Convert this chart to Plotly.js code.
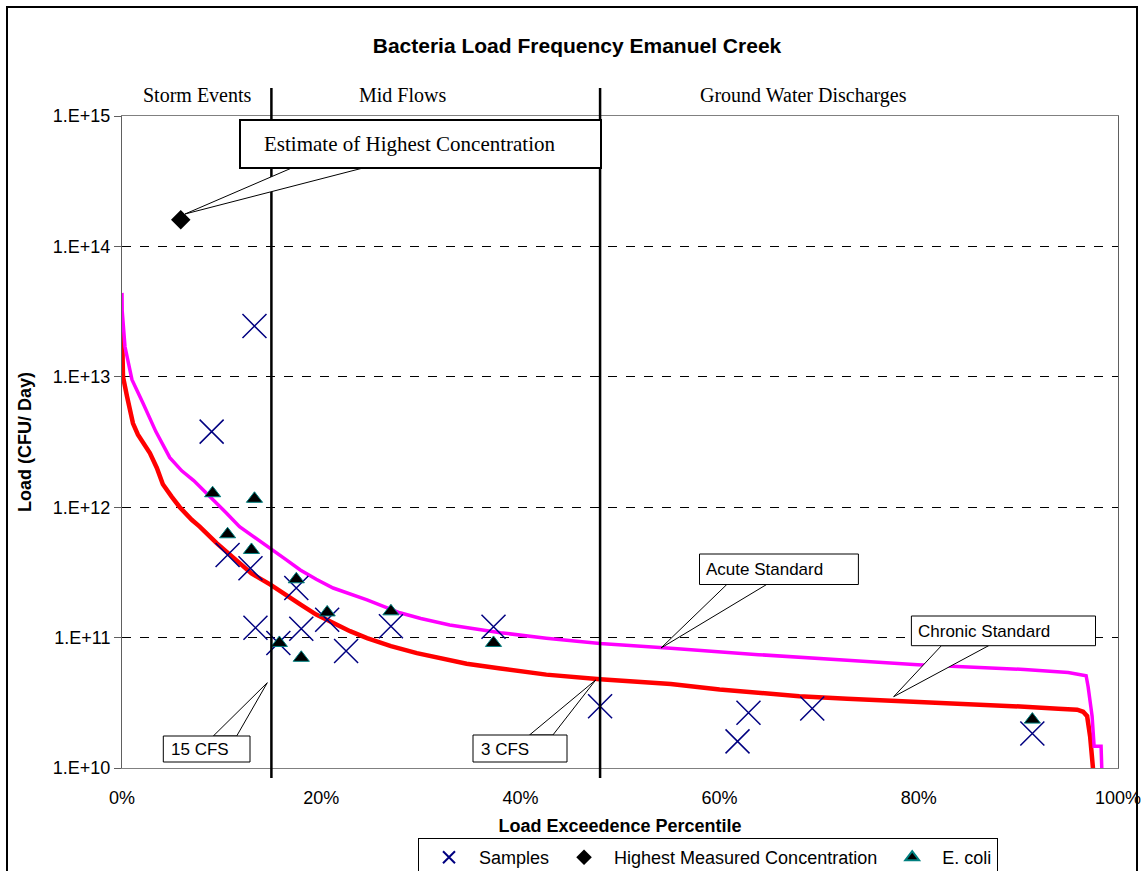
<!DOCTYPE html>
<html>
<head>
<meta charset="utf-8">
<script src="https://cdn.plot.ly/plotly-3.0.1.min.js"></script>
<style>html,body{margin:0;padding:0;background:#fff;}#chart{width:1141px;height:871px;}</style>
</head>
<body>
<div id="chart"></div>
<script>
// ---- data ----
const chronicPct = [0, 0.05, 0.1, 0.5, 1.1, 1.6, 2.8, 3.5, 4.1, 5.0, 5.8, 7.0, 7.8, 9.5, 11.8, 13.0, 14.9, 16.5, 17.9, 19.5, 21.2, 22.9, 24.6, 27.0, 29.6, 32.0, 34.6, 38.0, 42.6, 48.0, 55.1, 60.0, 63.9, 68.0, 72.8, 77.0, 81.7, 86.0, 90.6, 94.0, 95.9, 96.5, 96.9, 97.2, 97.4, 97.6];
const chronicLoad = [2.4e13, 1.7e13, 1.0e13, 7.1e12, 4.4e12, 3.6e12, 2.6e12, 2.0e12, 1.5e12, 1.2e12, 1.0e12, 8.0e11, 7.1e11, 5.3e11, 3.7e11, 3.1e11, 2.55e11, 2.1e11, 1.8e11, 1.5e11, 1.29e11, 1.12e11, 9.9e10, 8.6e10, 7.6e10, 6.9e10, 6.3e10, 5.8e10, 5.2e10, 4.8e10, 4.4e10, 4.0e10, 3.8e10, 3.55e10, 3.4e10, 3.3e10, 3.2e10, 3.1e10, 2.95e10, 2.85e10, 2.8e10, 2.7e10, 2.5e10, 1.75e10, 1.3e10, 8.0e9];

const acutePct = [0, 0.02, 0.3, 1.0, 2.1, 3.4, 4.8, 6.0, 7.2, 9.2, 10.5, 11.8, 13.3, 14.9, 16.4, 17.9, 19.5, 21.2, 24.6, 27.9, 30.0, 32.9, 38.0, 42.6, 48.0, 55.1, 63.9, 72.8, 79.9, 86.1, 90.6, 95.0, 96.8, 97.0, 97.4, 97.6, 98.3, 98.4];
const acuteLoad = [4.4e13, 3.2e13, 1.7e13, 9.5e12, 6.3e12, 3.8e12, 2.4e12, 1.9e12, 1.6e12, 1.14e12, 9.0e11, 7.1e11, 5.9e11, 4.9e11, 4.0e11, 3.3e11, 2.8e11, 2.4e11, 1.95e11, 1.55e11, 1.4e11, 1.25e11, 1.09e11, 9.9e10, 9.0e10, 8.3e10, 7.4e10, 6.7e10, 6.2e10, 5.9e10, 5.7e10, 5.4e10, 5.1e10, 4.2e10, 2.5e10, 1.47e10, 1.47e10, 8.5e9];

const samplePct = [13.3, 9.0, 10.6, 12.9, 13.4, 15.7, 17.5, 18.0, 20.6, 22.5, 27.0, 37.3, 48.0, 61.8, 62.9, 69.3, 91.4];
const sampleLoad = [2.45e13, 3.8e12, 4.3e11, 3.4e11, 1.19e11, 9.1e10, 2.4e11, 1.17e11, 1.37e11, 7.9e10, 1.22e11, 1.21e11, 2.98e10, 1.6e10, 2.65e10, 2.86e10, 1.84e10];

const highestPct = [5.9];
const highestLoad = [1.6e14];

const ecoliPct = [9.1, 13.3, 10.6, 13.0, 17.5, 15.8, 18.0, 20.6, 27.0, 37.3, 91.4];
const ecoliLoad = [1.28e12, 1.16e12, 6.2e11, 4.7e11, 2.8e11, 9.1e10, 7.0e10, 1.56e11, 1.59e11, 9.1e10, 2.35e10];

const flowBreaks = [15, 48];
const yTickVals = [1e10, 1e11, 1e12, 1e13, 1e14, 1e15];
const yTickText = ['1.E+10', '1.E+11', '1.E+12', '1.E+13', '1.E+14', '1.E+15'];
const xTickVals = [0, 20, 40, 60, 80, 100];
const xTickText = ['0%', '20%', '40%', '60%', '80%', '100%'];
const zoneLabels = ['Storm Events', 'Mid Flows', 'Ground Water Discharges'];

// ---- layout helpers (pixel -> paper) ----
const L = 122, R = 1118, T = 116, B = 768;
const px = x => (x - L) / (R - L);
const py = y => (B - y) / (B - T);
const SANS = 'Liberation Sans, Arial, sans-serif';
const SERIF = 'Liberation Serif, Times New Roman, serif';

const traces = [
  {x: chronicPct, y: chronicLoad, type: 'scatter', mode: 'lines', name: 'Chronic Standard',
   line: {color: '#ff0000', width: 4.5}, showlegend: false, hoverinfo: 'skip'},
  {x: acutePct, y: acuteLoad, type: 'scatter', mode: 'lines', name: 'Acute Standard',
   line: {color: '#ff00ff', width: 3.5}, showlegend: false, hoverinfo: 'skip'},
  {x: samplePct, y: sampleLoad, type: 'scatter', mode: 'markers', name: 'Samples',
   marker: {symbol: 'x-thin-open', size: 24, color: '#000080', line: {color: '#000080', width: 1.5}}},
  {x: highestPct, y: highestLoad, type: 'scatter', mode: 'markers', name: 'Highest Measured Concentration',
   marker: {symbol: 'diamond', size: 15, color: '#000000'}},
  {x: ecoliPct, y: ecoliLoad, type: 'scatter', mode: 'markers', name: 'E. coli',
   marker: {symbol: 'triangle-up', size: 14, color: '#000000', line: {color: '#008080', width: 1}}}
];

function rectPx(x0, y0, x1, y1, lw) {
  return {type: 'rect', xref: 'paper', yref: 'paper', x0: px(x0), x1: px(x1), y0: py(y1), y1: py(y0),
          line: {color: '#000', width: lw}, fillcolor: '#fff', layer: 'above'};
}
function wedgePx(ax, ay, bx, by, tx, ty) {
  return {type: 'path', xref: 'paper', yref: 'paper',
          path: `M${px(ax)},${py(ay)} L${px(tx)},${py(ty)} L${px(bx)},${py(by)} Z`,
          line: {color: '#000', width: 1}, fillcolor: '#fff', layer: 'above'};
}

const shapes = [
  // outer chart border
  {type: 'rect', xref: 'paper', yref: 'paper', x0: px(7), x1: px(1137), y0: py(920), y1: py(7),
   line: {color: '#000', width: 2}, fillcolor: 'rgba(0,0,0,0)', layer: 'below'},
  // flow break lines
  ...flowBreaks.map(v => ({type: 'line', xref: 'x', yref: 'paper', x0: v, x1: v, y0: py(778), y1: py(88),
    line: {color: '#000', width: 2.5}, layer: 'above'})),
  // callouts
  wedgePx(291.7, 168, 363, 168, 185, 214),
  rectPx(240, 120, 601, 168, 2),
  wedgePx(213.3, 736, 236.7, 736, 267.3, 682.7),
  rectPx(163.3, 736, 250, 762, 1),
  wedgePx(529.5, 735, 552.9, 735, 595.7, 680),
  rectPx(473, 735, 567, 762, 1),
  wedgePx(726.8, 584.5, 766.6, 584.5, 661, 648),
  rectPx(699.5, 554, 858.4, 584.5, 1),
  wedgePx(941.4, 645.7, 988.6, 645.7, 893.7, 696.7),
  rectPx(911.4, 616, 1095.5, 645.7, 1)
];

function textPx(text, x, y, font, anchor) {
  return {text: text, xref: 'paper', yref: 'paper', x: px(x), y: py(y), showarrow: false,
          xanchor: anchor || 'left', yanchor: 'middle', font: font};
}
const serif20 = {family: SERIF, size: 20, color: '#000'};
const serif21 = {family: SERIF, size: 21, color: '#000'};
const sans17 = {family: SANS, size: 17, color: '#000'};
const annotations = [
  textPx(zoneLabels[0], 197, 95, serif20, 'center'),
  textPx(zoneLabels[1], 402, 95, serif20, 'center'),
  textPx(zoneLabels[2], 803, 95, serif20, 'center'),
  textPx('Estimate of Highest Concentration', 410, 144, serif21, 'center'),
  textPx('15 CFS', 169, 749, sans17),
  textPx('3 CFS', 479, 749, sans17),
  textPx('Acute Standard', 704, 569, sans17),
  textPx('Chronic Standard', 916, 631, sans17)
];

const layout = {
  width: 1141, height: 871,
  margin: {l: L, r: 1141 - R, t: T, b: 871 - B, autoexpand: false},
  paper_bgcolor: '#fff', plot_bgcolor: '#fff',
  title: {text: 'Bacteria Load Frequency Emanuel Creek', x: 577 / 1141, xanchor: 'center',
          xref: 'container', y: 1 - 46 / 871, yanchor: 'middle', yref: 'container',
          font: {family: SANS, size: 21, weight: 'bold', color: '#000'}},
  xaxis: {range: [0, 100], tickvals: xTickVals, ticktext: xTickText, showgrid: false, zeroline: false,
          showline: true, mirror: true, linecolor: '#808080', linewidth: 1, ticks: '',
          ticklabelstandoff: 13, ticklabeloverflow: 'allow',
          tickfont: {family: SANS, size: 18, color: '#000'},
          automargin: true,
          title: {text: 'Load Exceedence Percentile', standoff: 12,
                  font: {family: SANS, size: 18, weight: 'bold', color: '#000'}}},
  yaxis: {type: 'log', range: [10, 15], tickvals: yTickVals, ticktext: yTickText,
          showgrid: true, gridcolor: '#000', griddash: 'dash', gridwidth: 1, zeroline: false,
          showline: true, mirror: true, linecolor: '#606060', linewidth: 1,
          ticks: 'outside', ticklen: 7, tickcolor: '#606060',
          tickfont: {family: SANS, size: 18, color: '#000'},
          automargin: true,
          title: {text: 'Load (CFU/ Day)', standoff: 16,
                  font: {family: SANS, size: 18, weight: 'bold', color: '#000'}}},
  showlegend: true,
  legend: {orientation: 'h', x: px(418), xanchor: 'left', y: py(838), yanchor: 'top',
           bordercolor: '#000', borderwidth: 1, bgcolor: '#fff', itemsizing: 'constant',
           itemwidth: 50,
           font: {family: SANS, size: 18, color: '#000'}},
  shapes: shapes,
  annotations: annotations
};

Plotly.newPlot('chart', traces, layout, {displayModeBar: false, staticPlot: true});
</script>
</body>
</html>
